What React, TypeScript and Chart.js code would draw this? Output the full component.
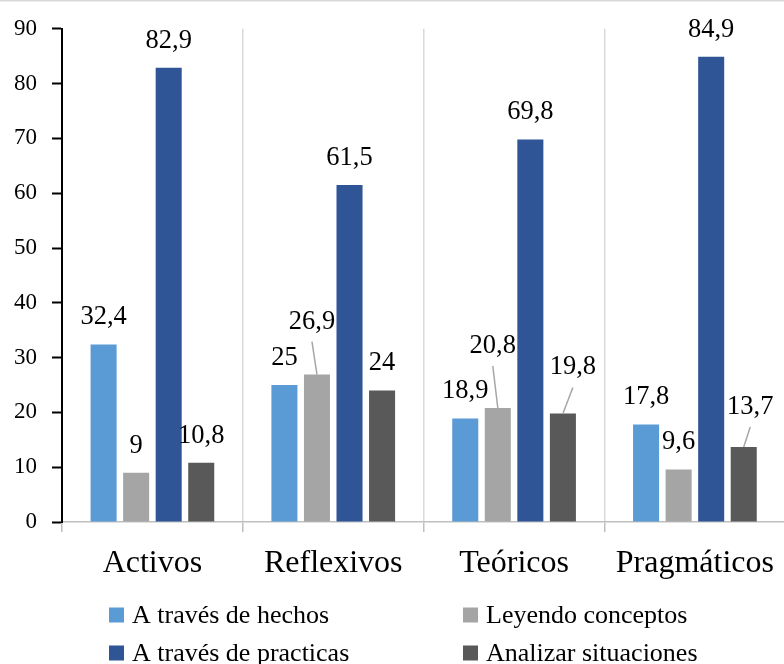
import React, { useEffect, useRef } from "react";
import { Chart, registerables } from "chart.js";

Chart.register(...registerables);

const categories = ["Activos", "Reflexivos", "Teóricos", "Pragmáticos"];
const seriesNames = [
  "A través de hechos",
  "Leyendo conceptos",
  "A través de practicas",
  "Analizar situaciones",
];
const hechos = [32.4, 25, 18.9, 17.8];
const conceptos = [9, 26.9, 20.8, 9.6];
const practicas = [82.9, 61.5, 69.8, 84.9];
const analizar = [10.8, 24, 19.8, 13.7];
const seriesColors = ["#5B9BD5", "#A5A5A5", "#2F5597", "#595959"];
const yMax = 90;
const yStep = 10;

// callout label nudges keyed "dataset-category": [dx, dy] in px
const labelNudges: Record<string, [number, number]> = {
  "1-1": [-5, -26],
  "1-2": [-5, -35],
  "3-2": [10, -19],
  "3-3": [6.5, -13],
};

const FONT = "'Liberation Serif', 'Times New Roman', serif";

const fmt = (v: number) => String(v).replace(".", ",");

const labelPlugin = {
  id: "valueLabels",
  afterDatasetsDraw(chart: any) {
    const ctx = chart.ctx;
    ctx.save();
    ctx.font = `26.5px ${FONT}`;
    ctx.fillStyle = "#000";
    ctx.textAlign = "center";
    ctx.textBaseline = "middle";
    chart.data.datasets.forEach((ds: any, di: number) => {
      const meta = chart.getDatasetMeta(di);
      meta.data.forEach((bar: any, ci: number) => {
        const nudge = labelNudges[`${di}-${ci}`];
        const dx = nudge ? nudge[0] : 0;
        const dy = nudge ? nudge[1] : 0;
        const lx = bar.x + dx;
        const ly = bar.y - 27 + dy;
        if (nudge) {
          ctx.strokeStyle = "#A6A6A6";
          ctx.lineWidth = 1.5;
          ctx.beginPath();
          ctx.moveTo(lx, ly + 20);
          ctx.lineTo(bar.x, bar.y);
          ctx.stroke();
        }
        ctx.fillText(fmt(ds.data[ci]), lx, ly);
      });
    });
    ctx.restore();
  },
};

const legendPlugin = {
  id: "customLegend",
  afterDraw(chart: any) {
    const ctx = chart.ctx;
    ctx.save();
    // frame line on top
    ctx.strokeStyle = "#D9D9D9";
    ctx.lineWidth = 1.5;
    ctx.beginPath();
    ctx.moveTo(0, 0.75);
    ctx.lineTo(chart.width, 0.75);
    ctx.stroke();

    ctx.font = `26px ${FONT}`;
    ctx.textAlign = "left";
    ctx.textBaseline = "middle";
    const cols = [109, 463];
    const rows = [615, 653];
    // column-major order: col 0 -> ds 0, 2 ; col 1 -> ds 1, 3
    const order = [
      [0, 0, 0],
      [1, 1, 0],
      [2, 0, 1],
      [3, 1, 1],
    ];
    order.forEach(([di, c, r]) => {
      const x = cols[c];
      const y = rows[r];
      ctx.fillStyle = seriesColors[di];
      ctx.fillRect(x, y - 7.5, 15, 15);
      ctx.fillStyle = "#000";
      ctx.fillText(seriesNames[di], x + 23, y + 1);
    });
    ctx.restore();
  },
};

export default function App() {
  const ref = useRef<HTMLCanvasElement | null>(null);
  useEffect(() => {
    if (!ref.current) return;
    const series = [hechos, conceptos, practicas, analizar];
    const chart = new Chart(ref.current, {
      type: "bar",
      data: {
        labels: categories,
        datasets: series.map((d, i) => ({
          label: seriesNames[i],
          data: d,
          backgroundColor: seriesColors[i],
          categoryPercentage: 0.72,
          barPercentage: 0.8,
        })),
      },
      options: {
        responsive: false,
        animation: false,
        layout: { padding: { top: 25, left: 0, right: 0, bottom: 0 } },
        plugins: {
          legend: { display: false },
          tooltip: { enabled: false },
        },
        scales: {
          x: {
            afterFit: (s: any) => {
              s.height = 664 - 522;
            },
            grid: {
              offset: true,
              color: "#D9D9D9",
              lineWidth: 1.5,
              tickColor: "#BFBFBF",
              tickLength: 10,
              tickWidth: 1.5,
              drawTicks: true,
            },
            border: { color: "#BFBFBF", width: 1.5 },
            ticks: {
              color: "#000",
              font: { family: FONT, size: 32 },
              padding: 12,
            },
          },
          y: {
            min: 0,
            max: yMax,
            afterFit: (s: any) => {
              s.width = 62;
            },
            grid: {
              drawOnChartArea: false,
              drawTicks: true,
              tickLength: 10,
              tickColor: "#000",
              tickWidth: 2,
            },
            border: { color: "#000", width: 2 },
            ticks: {
              stepSize: yStep,
              color: "#000",
              font: { family: FONT, size: 23 },
              padding: 15,
            },
          },
        },
      },
      plugins: [labelPlugin, legendPlugin],
    });
    return () => chart.destroy();
  }, []);
  return (
    <div
      style={{
        position: "fixed",
        left: 0,
        top: 0,
        width: 784,
        height: 664,
        overflow: "hidden",
        background: "#fff",
      }}
    >
      <canvas ref={ref} width={786} height={664} style={{ display: "block" }} />
    </div>
  );
}
